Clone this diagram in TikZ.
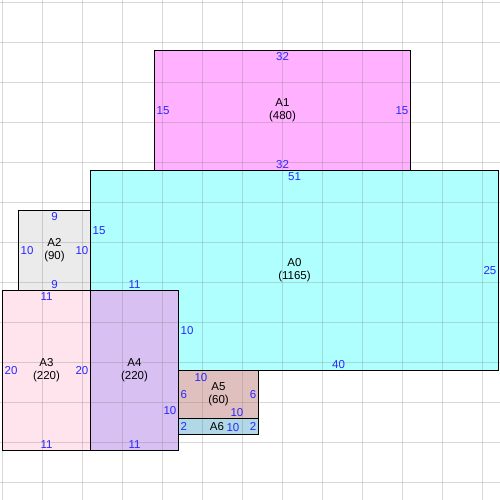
\documentclass[tikz,border=0pt]{standalone}
\usepackage{fontspec}
\setmainfont{Liberation Sans}
\usetikzlibrary{positioning}
\definecolor{dimblue}{RGB}{40,40,255}
\definecolor{fillA0}{RGB}{176,255,255}
\definecolor{fillA1}{RGB}{255,176,255}
\definecolor{fillA2}{RGB}{235,235,235}
\definecolor{fillA3}{RGB}{255,228,238}
\definecolor{fillA4}{RGB}{216,192,242}
\definecolor{fillA5}{RGB}{224,192,190}
\definecolor{fillA6}{RGB}{176,216,230}

\begin{document}
\begin{tikzpicture}[x=8pt,y=-8pt,
    area/.style={draw=black,line width=1pt},
    gridline/.style={draw=gray,opacity=0.3,line width=1pt},
    dim/.style={text=dimblue,inner sep=2pt,font=\fontsize{11.5}{13}\selectfont},
    label/.style={align=center,inner sep=0pt,font=\fontsize{11.5}{13}\selectfont}]
    \useasboundingbox (-0.3125,-0.3125) rectangle (62.1875,62.1875);

    % fills
    \fill[fillA0] (11,21) -- (62,21) -- (62,46) -- (22,46) -- (22,36) -- (11,36) -- cycle;
    \fill[fillA1] (19,6) rectangle (51,21);
    \fill[fillA2] (2,26) rectangle (11,36);
    \fill[fillA3] (0,36) rectangle (11,56);
    \fill[fillA4] (11,36) rectangle (22,56);
    \fill[fillA5] (22,46) rectangle (32,52);
    \fill[fillA6] (22,52) rectangle (32,54);

    % grid
    \foreach \k in {0,5,...,60} {
        \draw[gridline] (\k,-0.3125) -- (\k,62.1875);
        \draw[gridline] (-0.3125,\k) -- (62.1875,\k);
    }

    % outlines
    \draw[area] (11,21) -- (62,21) -- (62,46) -- (22,46) -- (22,36) -- (11,36) -- cycle;
    \draw[area] (19,6) rectangle (51,21);
    \draw[area] (2,26) rectangle (11,36);
    \draw[area] (0,36) rectangle (11,56);
    \draw[area] (11,36) rectangle (22,56);
    \draw[area] (22,46) rectangle (32,52);
    \draw[area] (22,52) rectangle (32,54);

    % names
    \node[label] (a0) at (36.5,33.5) {A0\\(1165)};
    \node[label] (a1) at (35,13.5)   {A1\\(480)};
    \node[label] (a2) at (6.5,31)    {A2\\(90)};
    \node[label] (a3) at (5.5,46)    {A3\\(220)};
    \node[label] (a4) at (16.5,46)   {A4\\(220)};
    \node[label] (a5) at (27,49)     {A5\\(60)};
    \node[label] (a6) at (26.8,53)   {A6};

    % side lengths
    \node[dim, anchor=north] (a0t) at (36.5,21) {51};
    \node[dim, anchor=east]  (a0r) at (62,33.5) {25};
    \node[dim, anchor=south] (a0b) at (42,46)   {40};
    \node[dim, anchor=west]  (a0s) at (22,41)   {10};
    \node[dim, anchor=south] (a0u) at (16.5,36) {11};
    \node[dim, anchor=west]  (a0l) at (11,28.5) {15};

    \node[dim, anchor=north] (a1t) at (35,6)    {32};
    \node[dim, anchor=south] (a1b) at (35,21)   {32};
    \node[dim, anchor=west]  (a1l) at (19,13.5) {15};
    \node[dim, anchor=east]  (a1r) at (51,13.5) {15};

    \node[dim, anchor=north] (a2t) at (6.5,26)  {9};
    \node[dim, anchor=south] (a2b) at (6.5,36)  {9};
    \node[dim, anchor=west]  (a2l) at (2,31)    {10};
    \node[dim, anchor=east]  (a2r) at (11,31)   {10};

    \node[dim, anchor=north] (a3t) at (5.5,36)  {11};
    \node[dim, anchor=south] (a3b) at (5.5,56)  {11};
    \node[dim, anchor=west]  (a3l) at (0,46)    {20};
    \node[dim, anchor=east]  (a3r) at (11,46)   {20};

    \node[dim, anchor=south] (a4b) at (16.5,56) {11};
    \node[dim, anchor=east]  (a4r) at (22,51)   {10};

    \node[dim] (a5t) at (24.8,46.9) {10};
    \node[dim, anchor=south] (a5b) at (29.3,52) {10};
    \node[dim, anchor=west]  (a5l) at (22,49)   {6};
    \node[dim, anchor=east]  (a5r) at (32,49)   {6};

    \node[dim, anchor=west]  (a6l) at (22,53)   {2};
    \node[dim, anchor=east]  (a6r) at (32,53)   {2};
    \node[dim] (a6b) at (28.8,53.1) {10};
\end{tikzpicture}
\end{document}
